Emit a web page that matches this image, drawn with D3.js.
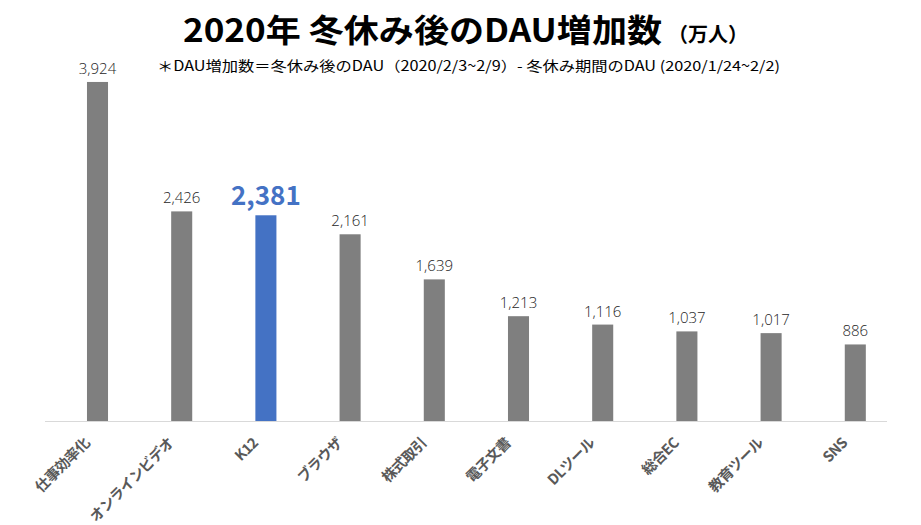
<!DOCTYPE html>
<html><head><meta charset="utf-8">
<script src="https://cdn.jsdelivr.net/npm/d3@7"></script>
<style>body{margin:0;background:#fff;} svg{display:block;}</style>
</head><body>
<script>
const categories = ["仕事効率化","オンラインビデオ","K12","ブラウザ","株式取引","電子文書","DLツール","総合EC","教育ツール","SNS"];
const values = [3924,2426,2381,2161,1639,1213,1116,1037,1017,886];
const highlight = "K12";
const title = "2020年 冬休み後のDAU増加数";
const titleUnit = "（万人）";
const subtitle = "＊DAU増加数＝冬休み後のDAU（2020/2/3~2/9）- 冬休み期間のDAU (2020/1/24~2/2)";

const W=921,H=525;
const svg=d3.select("body").append("svg").attr("width",W).attr("height",H);
const font="'Noto Sans CJK JP','Noto Sans',sans-serif";
const x=d3.scaleBand().domain(categories).range([55.4,897.4]).paddingInner(0.75).paddingOuter(0.375);
const y=d3.scaleLinear().domain([0,4500]).range([421,32.2]);

svg.append("text").attr("x",183).attr("y",42)
 .attr("font-family",font).attr("font-weight","bold").attr("fill","#000")
 .attr("font-size",32).attr("textLength",479).attr("lengthAdjust","spacingAndGlyphs").text(title);
svg.append("text").attr("x",668).attr("y",42)
 .attr("font-family",font).attr("font-weight","bold").attr("fill","#000")
 .attr("font-size",20).attr("textLength",80).attr("lengthAdjust","spacingAndGlyphs").text(titleUnit);

svg.append("text").attr("x",157).attr("y",71)
 .attr("font-family",font).attr("font-size",14).attr("fill","#000")
 .attr("textLength",623).attr("lengthAdjust","spacingAndGlyphs").text(subtitle);

svg.append("g").selectAll("rect").data(categories).join("rect")
 .attr("x",d=>x(d)).attr("width",x.bandwidth())
 .attr("y",(d,i)=>y(values[i])).attr("height",(d,i)=>y(0)-y(values[i]))
 .attr("fill",d=>d===highlight?"#4472c4":"#7f7f7f");

svg.append("line").attr("x1",45).attr("x2",887).attr("y1",y(0)+0.5).attr("y2",y(0)+0.5)
 .attr("stroke","#d9d9d9").attr("stroke-width",1);

const fmt=d3.format(",");
svg.append("g").selectAll("text").data(categories).join("text")
 .attr("x",d=>x(d)+x.bandwidth()/2)
 .attr("y",(d,i)=>y(values[i])-(d===highlight?10:8))
 .attr("text-anchor","middle")
 .attr("font-family",d=>d===highlight?font:"'Open Sans','Noto Sans',sans-serif")
 .attr("font-size",d=>d===highlight?26:15)
 .attr("font-weight",d=>d===highlight?"bold":"300")
 .attr("fill",d=>d===highlight?"#4472c4":"#262626")
 .text((d,i)=>fmt(values[i]));

svg.append("g").selectAll("text").data(categories).join("text")
 .attr("transform",d=>`translate(${x(d)+x.bandwidth()/2-7},${444}) rotate(-45)`)
 .attr("text-anchor","end")
 .attr("font-family",font).attr("font-size",14.5).attr("font-weight","bold")
 .attr("letter-spacing",-0.6)
 .attr("fill","#595959")
 .text(d=>d);
</script>
</body></html>
